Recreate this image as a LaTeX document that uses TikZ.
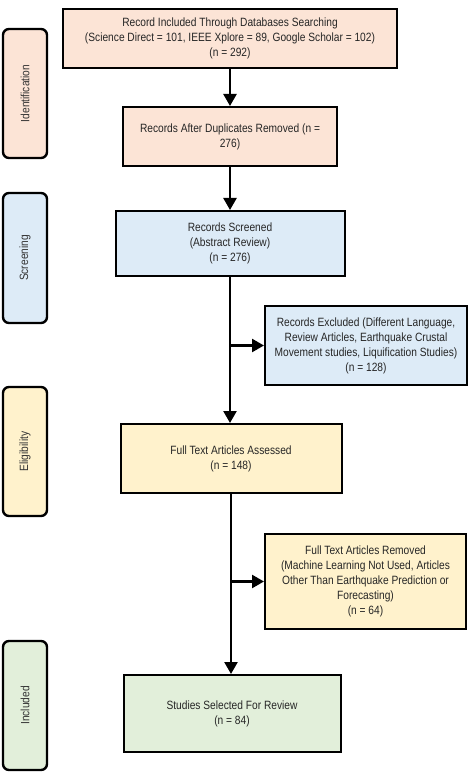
\documentclass[tikz,border=0pt]{standalone}
\usepackage{fontspec}
\setmainfont{Liberation Sans}[FakeStretch=0.85]
\usepackage{tikz}
\usetikzlibrary{positioning,calc,arrows.meta}
\usepackage{xcolor}
\definecolor{stPink}{HTML}{FCE4D6}
\definecolor{stBlue}{HTML}{DDEBF7}
\definecolor{stYellow}{HTML}{FFF2CC}
\definecolor{stGreen}{HTML}{E2EFDA}

\begin{document}
\begin{tikzpicture}[
    x=1pt, y=1pt,
    box/.style={draw=black, line width=2pt, align=center, inner sep=2pt,
                font=\fontsize{12}{15}\selectfont, text=black!85},
    phase/.style={draw=black, line width=2.4pt, rounded corners=6pt,
                  minimum width=129, minimum height=44, rotate=90,
                  font=\fontsize{12}{15}\selectfont, text=black!80},
    arr/.style={line width=2.4pt, -{Triangle[length=12pt,width=13pt]}},
]
\useasboundingbox (0,0) rectangle (473,-783);
% phase labels on the left
\node[phase, fill=stPink] (pId) at (25,-93.5) {Identification};
\node[phase, fill=stBlue, minimum width=130] (pSc) at (25,-258) {Screening};
\node[phase, fill=stYellow] (pEl) at (25,-451.5) {Eligibility};
\node[phase, fill=stGreen] (pIn) at (25,-705.5) {Included};
% main column
\node[box, fill=stPink, minimum width=334, minimum height=59] (recIn) at (230,-38.5)
  {Record Included Through Databases Searching\\(Science Direct = 101, IEEE Xplore = 89, Google Scholar = 102)\\(n = 292)};
\node[box, fill=stPink, minimum width=214, minimum height=59] (recDup) at (230,-136.5)
  {Records After Duplicates Removed (n =\\276)};
\node[box, fill=stBlue, minimum width=229, minimum height=65] (recScr) at (230,-243.5)
  {Records Screened\\(Abstract Review)\\(n = 276)};
\node[box, fill=stBlue, minimum width=202, minimum height=79] (recExc) at (366,-345.5)
  {Records Excluded (Different Language,\\Review Articles, Earthquake Crustal\\Movement studies, Liquification Studies)\\(n = 128)};
\node[box, fill=stYellow, minimum width=221, minimum height=69] (ftAss) at (231,-458.5)
  {Full Text Articles Assessed\\(n = 148)};
\node[box, fill=stYellow, minimum width=201, minimum height=95] (ftRem) at (365.5,-581.5)
  {Full Text Articles Removed\\(Machine Learning Not Used, Articles\\Other Than Earthquake Prediction or\\Forecasting)\\(n = 64)};
\node[box, fill=stGreen, minimum width=217, minimum height=77] (sel) at (232,-713.5)
  {Studies Selected For Review\\(n = 84)};
% connectors
\draw[arr] (recIn.south) -- (recIn.south |- recDup.north);
\draw[arr] (recDup.south) -- (recDup.south |- recScr.north);
\draw[arr] (recScr.south) -- (recScr.south |- ftAss.north);
\draw[arr] (recScr.south |- recExc.west) -- (recExc.west);
\draw[arr] (ftAss.south) -- (ftAss.south |- sel.north);
\draw[arr] (ftAss.south |- ftRem.west) -- (ftRem.west);
\end{tikzpicture}
\end{document}
